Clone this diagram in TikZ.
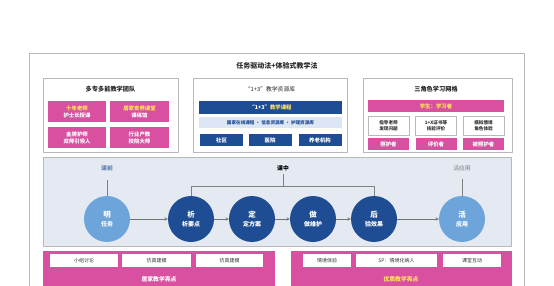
\documentclass[tikz,border=0pt]{standalone}
\usepackage{fontspec}
\setmainfont{Noto Sans CJK SC}
\definecolor{pinkc}{HTML}{D8509F}
\definecolor{navy}{HTML}{1F4D93}
\definecolor{skyc}{HTML}{6DA5DA}
\definecolor{paleb}{HTML}{DDE6F4}
\definecolor{bandc}{HTML}{E5EAF2}
\definecolor{framec}{HTML}{B8B8B8}
\definecolor{goldc}{HTML}{FFE45C}
\tikzset{
  panel/.style={draw=framec, fill=white, line width=0.6pt},
  pinkbox/.style={fill=pinkc, text=white, font=\bfseries\fontsize{5.4}{7}\selectfont, align=center, inner sep=0pt},
  navybox/.style={fill=navy, text=white, font=\bfseries\fontsize{5.4}{6}\selectfont, align=center, inner sep=0pt},
  whitebox/.style={fill=white, draw=framec, line width=0.4pt, text=black!80, font=\fontsize{5}{6}\selectfont, align=center, inner sep=0pt},
  stage/.style={circle, minimum size=46pt, inner sep=0pt, text=white, align=center, font=\bfseries\fontsize{6}{8.5}\selectfont},
  heading/.style={font=\bfseries\fontsize{6.2}{7}\selectfont, text=black!85},
  flow/.style={->, draw=black!55, line width=0.5pt},
  link/.style={draw=black!50, line width=0.5pt}
}
\begin{document}
\begin{tikzpicture}[x=1pt, y=-1pt, >=stealth, line cap=round, line join=round]
\useasboundingbox (0,0) rectangle (554,286);
\fill[white] (0,0) rectangle (554,286);
% outer frame
\draw[panel] (29,53) rectangle (524,300);
\node[heading, font=\bfseries\fontsize{7}{8}\selectfont] (title) at (277,66) {任务驱动法+体验式教学法};

% left panel: team
\draw[panel] (43,78) rectangle (178,152);
\node[heading] (teamtitle) at (110.5,89) {多专多能教学团队};
\node[pinkbox, minimum width=58pt, minimum height=21pt] (t1) at (77,111.5) {\textcolor{goldc}{十年老师}\\护士长授课};
\node[pinkbox, minimum width=59pt, minimum height=21pt] (t2) at (139.5,111.5) {\textcolor{goldc}{居家安养课堂}\\课练馆};
\node[pinkbox, minimum width=58pt, minimum height=21pt] (t3) at (77,137.5) {金牌护师\\双师引领人};
\node[pinkbox, minimum width=59pt, minimum height=21pt] (t4) at (139.5,137.5) {行业产教\\校院大师};

% middle panel: resources
\draw[panel] (193,78) rectangle (347,152);
\node[heading, font=\fontsize{5.8}{7}\selectfont] (restitle) at (270,89) {“1+3”教学资源库};
\node[navybox, minimum width=143pt, minimum height=13pt] (course) at (270.5,107.5) {“1+3”\textcolor{goldc}{教学课程}};
\node[fill=paleb, text=navy, font=\bfseries\fontsize{4.6}{5}\selectfont, minimum width=143pt, minimum height=11pt, inner sep=0pt] (online) at (270.5,122.5) {国家在线课程 · 信息资源库 · 护理资源库};
\foreach \n/\x/\t in {r1/221.5/社区, r2/270/医院, r3/320/养老机构}
  \node[navybox, minimum width=43pt, minimum height=12pt] (\n) at (\x,140) {\t};

% right panel: roles
\draw[panel] (363,78) rectangle (512,152);
\node[heading] (roletitle) at (436,89) {三角色学习网格};
\node[pinkbox, minimum width=136pt, minimum height=12pt] (student) at (436,106) {\textcolor{goldc}{学生：学习者}};
\foreach \n/\x/\t/\r in {w1/388.5/指导老师\\发现问题/照护者, w2/436/1+X证书等\\技能评价/评价者, w3/483.5/模拟情境\\角色体验/被照护者} {
  \node[whitebox, font=\bfseries\fontsize{4.6}{5.8}\selectfont, minimum width=41pt, minimum height=19pt] (\n) at (\x,125.5) {\t};
  \node[pinkbox, minimum width=41pt, minimum height=12pt] (\n p) at (\x,144) {\r};
}

% process band
\draw[draw=framec, fill=bandc, line width=0.6pt] (43,157) rectangle (511,246);
\node[font=\bfseries\fontsize{5.8}{7}\selectfont, text=navy!70] (pre) at (107,168) {课前};
\node[font=\bfseries\fontsize{5.8}{7}\selectfont, text=black] (mid) at (283,168) {课中};
\node[font=\fontsize{5.8}{7}\selectfont, text=black!55] (post) at (462,168) {活应用};
\node[stage, fill=skyc] (s1) at (107,219) {{\fontsize{7.5}{8}\selectfont 明}\\任务};
\node[stage, fill=navy] (s2) at (191,219) {{\fontsize{7.5}{8}\selectfont 析}\\析要点};
\node[stage, fill=navy] (s3) at (252,219) {{\fontsize{7.5}{8}\selectfont 定}\\定方案};
\node[stage, fill=navy] (s4) at (313,219) {{\fontsize{7.5}{8}\selectfont 做}\\做维护};
\node[stage, fill=navy] (s5) at (374,219) {{\fontsize{7.5}{8}\selectfont 后}\\验效果};
\node[stage, fill=skyc] (s6) at (462,219) {{\fontsize{7.5}{8}\selectfont 活}\\应用};
\foreach \a/\b in {s1/s2, s2/s3, s3/s4, s4/s5, s5/s6}
  \draw[flow] (\a) -- (\b);
\coordinate (bl) at (191,186);
\coordinate (br) at (374,186);
\coordinate (bm) at (283,186);
\draw[link] (pre.south) ++(0,6) -- (s1.north);
\draw[link] (post.south) ++(0,5) -- (s6.north);
\draw[link] (s2.north) -- (bl) -- (br) -- (s5.north);
\draw[link] (mid.south) -- (bm);

% bottom highlights
\fill[pinkc] (43,251) rectangle (275,300);
\fill[pinkc] (291,251) rectangle (512,300);
\foreach \n/\x/\w/\t in {b1/84/68/小组讨论, b2/156.5/69/仿真建模, b3/229.5/67/仿真建模, b4/327/48/情境体验, b5/396.5/81/SP：情境化病人, b6/472/58/课堂互动}
  \node[whitebox, draw=none, minimum width=\w pt, minimum height=13pt] (\n) at (\x,260.5) {\t};
\node[text=white, font=\bfseries\fontsize{5.8}{7}\selectfont] (homelbl) at (159,279) {居家教学亮点};
\node[text=goldc, font=\bfseries\fontsize{5.8}{7}\selectfont] (goodlbl) at (401,279) {优质教学亮点};
\end{tikzpicture}
\end{document}
